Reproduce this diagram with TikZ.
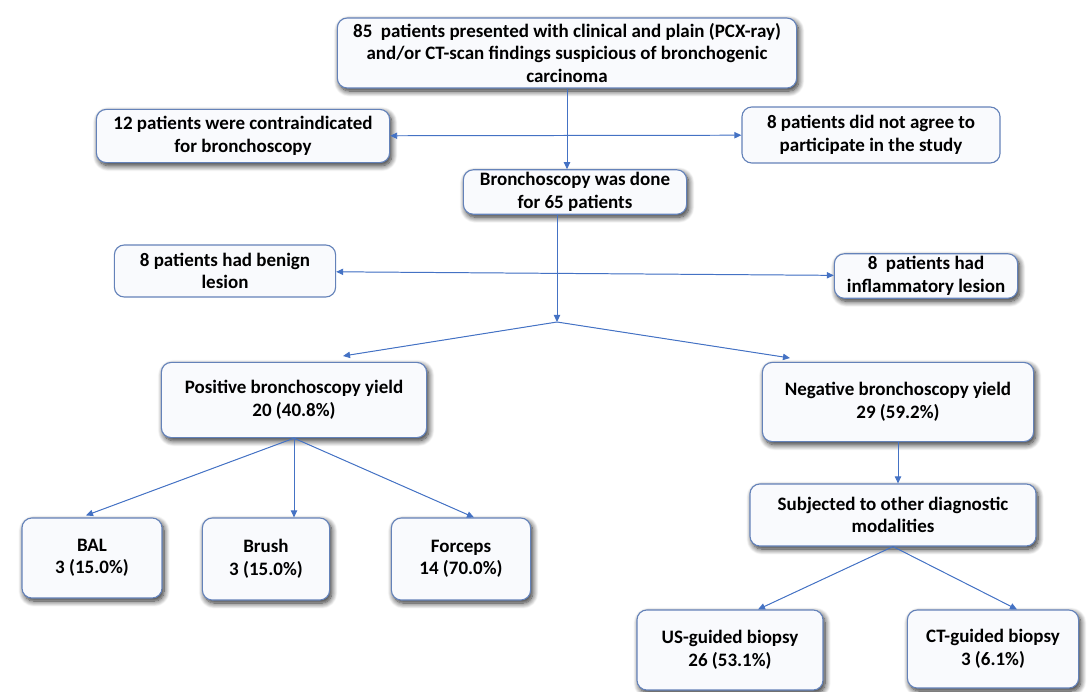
\documentclass[tikz,border=0pt]{standalone}
\usepackage{fontspec}
\setmainfont{Carlito}
\usetikzlibrary{arrows.meta,calc,shadows.blur}
\definecolor{arrblue}{RGB}{68,114,196}
\definecolor{boxline}{RGB}{100,130,185}
\definecolor{boxfill}{RGB}{249,250,253}
\begin{document}
\begin{tikzpicture}[x=0.025cm,y=-0.025cm,
  font=\bfseries\fontsize{13.5}{16}\selectfont,
  box/.style={draw=boxline,fill=boxfill,line width=0.8pt,rounded corners=7pt,align=center,inner sep=2pt},
  sbox/.style={box,blur shadow={shadow xshift=1.5pt,shadow yshift=-2.2pt,shadow blur radius=4pt,shadow blur steps=10,shadow opacity=85}},
  arr/.style={-{Triangle[length=5pt,width=4.5pt]},draw=arrblue,fill=arrblue,line width=0.7pt},
  arrb/.style={{Triangle[length=5pt,width=4.5pt]}-{Triangle[length=5pt,width=4.5pt]},draw=arrblue,fill=arrblue,line width=0.7pt}]
\useasboundingbox (0,0) rectangle (1089,691);
\node[sbox,minimum width=11.48cm,minimum height=1.75cm](top) at (567,53){85~ patients presented with clinical and plain (PCX-ray)\\and/or CT-scan findings suspicious of bronchogenic\\carcinoma};
\node[sbox,minimum width=7.33cm,minimum height=1.33cm](contra) at (243,136){12 patients were contraindicated\\for bronchoscopy};
\node[box,minimum width=6.45cm,minimum height=1.4cm](refuse) at (871,135){8 patients did not agree to\\participate in the study};
\node[sbox,minimum width=5.58cm,minimum height=1.0cm](bronch) at (575,192){Bronchoscopy was done\\for 65 patients};
\node[box,minimum width=5.53cm,minimum height=1.3cm](benign) at (225,271){8 patients had benign\\lesion};
\node[sbox,minimum width=4.58cm,minimum height=1.08cm](inflam) at (926,276){8~ patients had\\inflammatory lesion};
\node[sbox,minimum width=6.63cm,minimum height=1.88cm](pos) at (294,400){Positive bronchoscopy yield\\20 (40.8\%)};
\node[sbox,minimum width=6.78cm,minimum height=1.98cm](neg) at (898,402){Negative bronchoscopy yield\\29 (59.2\%)};
\node[sbox,minimum width=7.15cm,minimum height=1.55cm](other) at (893,515){Subjected to other diagnostic\\modalities};
\node[sbox,minimum width=3.5cm,minimum height=2.0cm](bal) at (92,558){BAL\\3 (15.0\%)};
\node[sbox,minimum width=3.18cm,minimum height=2.05cm](brush) at (266,559){Brush\\3 (15.0\%)};
\node[sbox,minimum width=3.48cm,minimum height=2.05cm](forceps) at (461,559){Forceps\\14 (70.0\%)};
\node[sbox,minimum width=4.65cm,minimum height=2.0cm](usbx) at (730,650){US-guided biopsy\\26 (53.1\%)};
\node[sbox,minimum width=4.28cm,minimum height=1.95cm](ctbx) at (993,649){CT-guided biopsy\\3 (6.1\%)};
\coordinate(split) at (557,322);
\coordinate(posin) at (343,356);
\coordinate(negin) at (790,358);
\draw[arr](top.south)--(top.south |- bronch.north);
\draw[arrb](contra)--(refuse);
\draw[arr](bronch.south -| split)--(split);
\draw[arrb](benign)--(inflam);
\draw[arr](split)--(posin);
\draw[arr](split)--(negin);
\draw[arr](pos.south)--($(bal.north)+(-6,-2)$);
\draw[arr](pos.south)--(pos.south |- brush.north);
\draw[arr](pos.south)--($(forceps.north)+(13,0)$);
\draw[arr](neg.south)--(neg.south |- other.north);
\draw[arr](other.south)--($(usbx.north)+(28,0)$);
\draw[arr](other.south)--($(ctbx.north)+(24,0)$);
\end{tikzpicture}
\end{document}
